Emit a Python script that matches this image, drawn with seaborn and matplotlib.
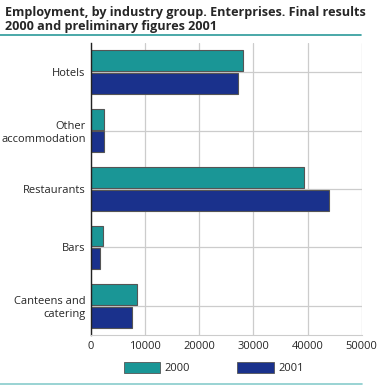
import pandas as pd
import seaborn as sns
import matplotlib.pyplot as plt
from matplotlib.lines import Line2D

# data
groups = ['Hotels', 'Other\naccommodation', 'Restaurants', 'Bars', 'Canteens and\ncatering']
emp_2000 = [28000, 2350, 39300, 2250, 8550]
emp_2001 = [27200, 2300, 43900, 1700, 7500]
years = ['2000', '2001']

df = pd.DataFrame({
    'group': groups * 2,
    'year': [years[0]] * len(groups) + [years[1]] * len(groups),
    'value': emp_2000 + emp_2001,
})

sns.set_style('white')
plt.rcParams['font.family'] = ['Open Sans', 'DejaVu Sans']

teal = '#1a9696'
navy = '#1a318c'

fig = plt.figure(figsize=(3.78, 3.86), dpi=100)
ax = fig.add_axes([0.241, 0.132, 0.716, 0.757])

sns.barplot(data=df, y='group', x='value', hue='year', order=groups,
            palette=[teal, navy], saturation=1, orient='h', width=0.78, gap=0.08,
            edgecolor='#555555', linewidth=0.8, ax=ax, legend=False)

ax.set_xlim(0, 50000)
ax.set_xticks([0, 10000, 20000, 30000, 40000, 50000])
ax.set_xlabel('')
ax.set_ylabel('')
ax.set_axisbelow(True)
ax.grid(True, color='#cccccc', linewidth=0.9)
ax.tick_params(axis='both', length=0, labelsize=8, pad=4)
for lab in ax.get_yticklabels():
    lab.set_multialignment('right')

for s in ['top', 'right']:
    ax.spines[s].set_visible(False)
ax.spines['left'].set_color('#222222')
ax.spines['left'].set_linewidth(1.0)
ax.spines['bottom'].set_color('#cccccc')

# title
fig.text(0.012, 0.985, 'Employment, by industry group. Enterprises. Final results\n2000 and preliminary figures 2001',
         ha='left', va='top', fontsize=9.1, fontweight='bold', linespacing=1.12)
fig.add_artist(Line2D([0.0, 0.955], [0.909, 0.909], color='#2a9a9a', linewidth=1.2))

# legend below
handles = [plt.Rectangle((0, 0), 1, 1, facecolor=teal, edgecolor='#555555', linewidth=0.6),
           plt.Rectangle((0, 0), 1, 1, facecolor=navy, edgecolor='#555555', linewidth=0.6)]
fig.legend(handles, years, loc='center', bbox_to_anchor=(0.565, 0.046), ncol=2, frameon=False,
           fontsize=8, handlelength=3.3, handleheight=1.2, columnspacing=4.2, handletextpad=0.4)
fig.add_artist(Line2D([0.0, 0.958], [0.005, 0.005], color='#88cccc', linewidth=1.2))

fig.savefig('out.png', dpi=100)
